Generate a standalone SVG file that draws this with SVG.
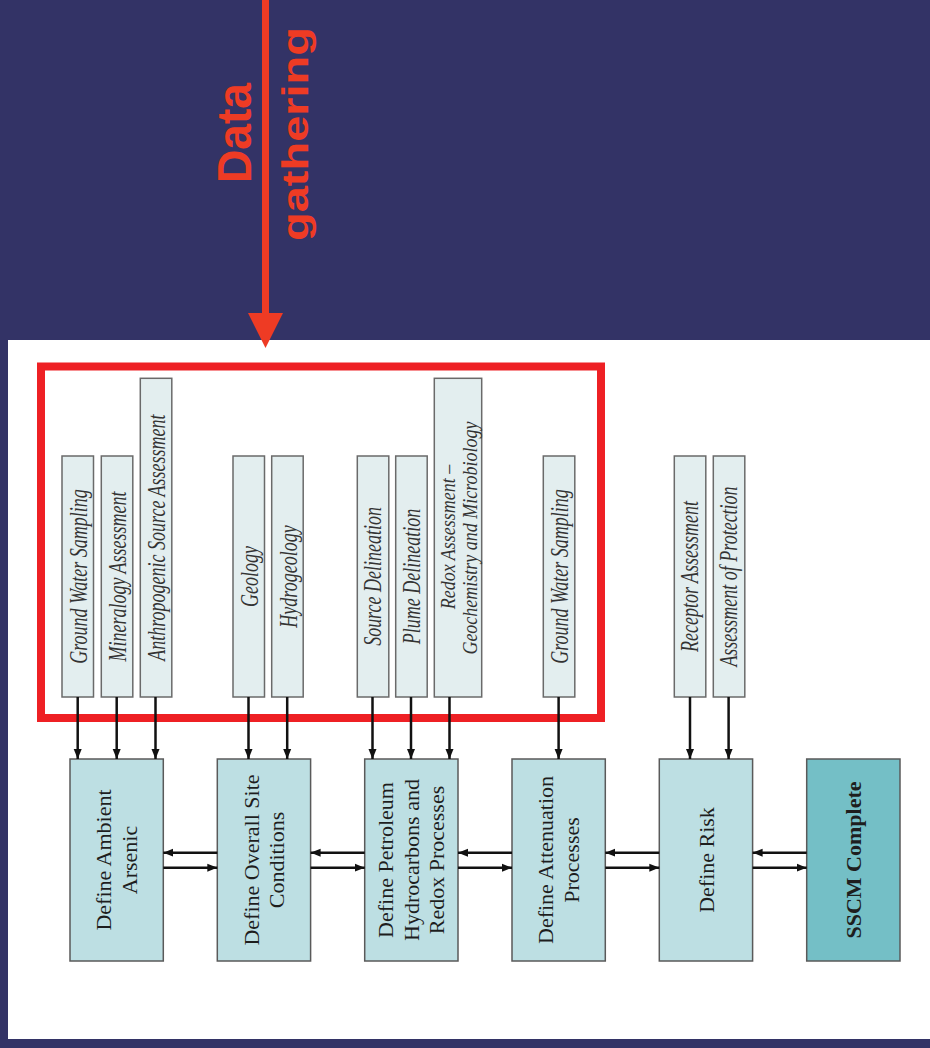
<svg xmlns="http://www.w3.org/2000/svg" width="930" height="1048" viewBox="0 0 930 1048">
  <defs>
    <style>
      .bg { fill: #333366; }
      .panel { fill: #ffffff; }
      .task { fill: #e3eeef; stroke: #6a6a6a; stroke-width: 1.5; }
      .stage { fill: #bddfe3; stroke: #5a5a5a; stroke-width: 1.5; }
      .final { fill: #74bfc6; stroke: #5a5a5a; stroke-width: 1.5; }
      .tlabel { font-family: "Liberation Serif", "Times New Roman", serif; font-style: italic; font-size: 18px; fill: #333333; text-anchor: middle; }
      .slabel { font-family: "Liberation Serif", "Times New Roman", serif; font-size: 22px; fill: #1e1e1e; text-anchor: middle; }
      .bold { font-weight: bold; }
      .conn { stroke: #111111; stroke-width: 2.5; fill: none; }
      .flag { font-family: "Liberation Sans", Arial, sans-serif; font-weight: bold; fill: #ee3b24; text-anchor: middle; }
    </style>
    <marker id="arrow" markerUnits="userSpaceOnUse" markerWidth="10" markerHeight="10" viewBox="0 0 10 10" refX="10" refY="5" orient="auto">
      <path d="M0,1 L10,5 L0,9 Z" fill="#111111"/>
    </marker>
  </defs>

  <!-- backdrop -->
  <rect class="bg" x="0" y="0" width="930" height="1048"/>
  <rect class="panel" x="8" y="340" width="922" height="699"/>

  <!-- data gathering pointer -->
  <g id="data-gathering">
    <line x1="265.5" y1="0" x2="265.5" y2="316" stroke="#ee3b24" stroke-width="7"/>
    <polygon points="248,313 283,313 265.5,348" fill="#ee3b24"/>
    <text class="flag" font-size="48" textLength="100" lengthAdjust="spacingAndGlyphs" transform="translate(251,133) rotate(-90)">Data</text>
    <text class="flag" font-size="37" textLength="214" lengthAdjust="spacingAndGlyphs" transform="translate(308,134) rotate(-90)">gathering</text>
  </g>

  <!-- red frame round the data gathering tasks -->
  <rect id="gathering-frame" x="41" y="366.5" width="560" height="351.5" fill="none" stroke="#ee2024" stroke-width="8"/>

  <!-- data gathering tasks -->
  <g id="task-gws1"><rect class="task" x="62" y="456" width="31.5" height="241"/>
    <text class="tlabel" transform="translate(87,576.5) scale(1.35,1) rotate(-90)">Ground Water Sampling</text></g>
  <g id="task-mineralogy"><rect class="task" x="101.3" y="456" width="31.5" height="241"/>
    <text class="tlabel" transform="translate(126.3,576.5) scale(1.35,1) rotate(-90)">Mineralogy Assessment</text></g>
  <g id="task-anthropogenic"><rect class="task" x="140.3" y="378.3" width="31.5" height="318.7"/>
    <text class="tlabel" transform="translate(165.3,537.6) scale(1.35,1) rotate(-90)">Anthropogenic Source Assessment</text></g>
  <g id="task-geology"><rect class="task" x="233" y="456" width="31.5" height="241"/>
    <text class="tlabel" transform="translate(258,576.5) scale(1.35,1) rotate(-90)">Geology</text></g>
  <g id="task-hydrogeology"><rect class="task" x="271.7" y="456" width="31.5" height="241"/>
    <text class="tlabel" transform="translate(296.7,576.5) scale(1.35,1) rotate(-90)">Hydrogeology</text></g>
  <g id="task-source"><rect class="task" x="357.3" y="456" width="31.5" height="241"/>
    <text class="tlabel" transform="translate(381.3,576.5) scale(1.35,1) rotate(-90)">Source Delineation</text></g>
  <g id="task-plume"><rect class="task" x="395.7" y="456" width="31.5" height="241"/>
    <text class="tlabel" transform="translate(419.7,576.5) scale(1.35,1) rotate(-90)">Plume Delineation</text></g>
  <g id="task-redox"><rect class="task" x="434.3" y="378.3" width="47.4" height="318.7"/>
    <text class="tlabel" transform="translate(455,537) scale(1.2,1) rotate(-90)">Redox Assessment –</text>
    <text class="tlabel" transform="translate(476.5,538) scale(1.2,1) rotate(-90)">Geochemistry and Microbiology</text></g>
  <g id="task-gws2"><rect class="task" x="543.3" y="456" width="31.5" height="241"/>
    <text class="tlabel" transform="translate(568.3,576.5) scale(1.35,1) rotate(-90)">Ground Water Sampling</text></g>
  <g id="task-receptor"><rect class="task" x="674.3" y="456" width="31.5" height="241"/>
    <text class="tlabel" transform="translate(698.3,576.5) scale(1.35,1) rotate(-90)">Receptor Assessment</text></g>
  <g id="task-protection"><rect class="task" x="713.3" y="456" width="31.5" height="241"/>
    <text class="tlabel" transform="translate(737.3,576.5) scale(1.35,1) rotate(-90)">Assessment of Protection</text></g>

  <!-- model stages -->
  <g id="stage-arsenic"><rect class="stage" x="70" y="759" width="93.3" height="202"/>
    <text class="slabel" transform="translate(111.4,860) rotate(-90)">Define Ambient</text>
    <text class="slabel" transform="translate(136.9,860) rotate(-90)">Arsenic</text></g>
  <g id="stage-site"><rect class="stage" x="217.3" y="759" width="93.3" height="202"/>
    <text class="slabel" transform="translate(258.7,860) rotate(-90)">Define Overall Site</text>
    <text class="slabel" transform="translate(284.2,860) rotate(-90)">Conditions</text></g>
  <g id="stage-petroleum"><rect class="stage" x="364.7" y="759" width="93.3" height="202"/>
    <text class="slabel" transform="translate(393.4,860) rotate(-90)">Define Petroleum</text>
    <text class="slabel" transform="translate(418.9,860) rotate(-90)">Hydrocarbons and</text>
    <text class="slabel" transform="translate(444.4,860) rotate(-90)">Redox Processes</text></g>
  <g id="stage-attenuation"><rect class="stage" x="512" y="759" width="93.3" height="202"/>
    <text class="slabel" transform="translate(553.4,860) rotate(-90)">Define Attenuation</text>
    <text class="slabel" transform="translate(578.9,860) rotate(-90)">Processes</text></g>
  <g id="stage-risk"><rect class="stage" x="659.3" y="759" width="93.3" height="202"/>
    <text class="slabel" transform="translate(713.5,860) rotate(-90)">Define Risk</text></g>
  <g id="stage-complete"><rect class="final" x="806.7" y="759" width="93.3" height="202"/>
    <text class="slabel bold" transform="translate(860.8,860) rotate(-90)">SSCM Complete</text></g>

  <!-- connectors -->
  <g id="connectors">
    <line class="conn" x1="77.7" y1="697" x2="77.7" y2="759" marker-end="url(#arrow)"/>
    <line class="conn" x1="116.7" y1="697" x2="116.7" y2="759" marker-end="url(#arrow)"/>
    <line class="conn" x1="155.5" y1="697" x2="155.5" y2="759" marker-end="url(#arrow)"/>
    <line class="conn" x1="248.5" y1="697" x2="248.5" y2="759" marker-end="url(#arrow)"/>
    <line class="conn" x1="287.2" y1="697" x2="287.2" y2="759" marker-end="url(#arrow)"/>
    <line class="conn" x1="372.5" y1="697" x2="372.5" y2="759" marker-end="url(#arrow)"/>
    <line class="conn" x1="411" y1="697" x2="411" y2="759" marker-end="url(#arrow)"/>
    <line class="conn" x1="449.5" y1="697" x2="449.5" y2="759" marker-end="url(#arrow)"/>
    <line class="conn" x1="558.6" y1="697" x2="558.6" y2="759" marker-end="url(#arrow)"/>
    <line class="conn" x1="690" y1="697" x2="690" y2="759" marker-end="url(#arrow)"/>
    <line class="conn" x1="728.6" y1="697" x2="728.6" y2="759" marker-end="url(#arrow)"/>

    <line class="conn" x1="217.3" y1="852.7" x2="163.3" y2="852.7" marker-end="url(#arrow)"/>
    <line class="conn" x1="163.3" y1="867.7" x2="217.3" y2="867.7" marker-end="url(#arrow)"/>
    <line class="conn" x1="364.7" y1="852.7" x2="310.6" y2="852.7" marker-end="url(#arrow)"/>
    <line class="conn" x1="310.6" y1="867.7" x2="364.7" y2="867.7" marker-end="url(#arrow)"/>
    <line class="conn" x1="512" y1="852.7" x2="458" y2="852.7" marker-end="url(#arrow)"/>
    <line class="conn" x1="458" y1="867.7" x2="512" y2="867.7" marker-end="url(#arrow)"/>
    <line class="conn" x1="659.3" y1="852.7" x2="605.3" y2="852.7" marker-end="url(#arrow)"/>
    <line class="conn" x1="605.3" y1="867.7" x2="659.3" y2="867.7" marker-end="url(#arrow)"/>
    <line class="conn" x1="806.7" y1="852.7" x2="752.6" y2="852.7" marker-end="url(#arrow)"/>
    <line class="conn" x1="752.6" y1="867.7" x2="806.7" y2="867.7" marker-end="url(#arrow)"/>
  </g>
</svg>
